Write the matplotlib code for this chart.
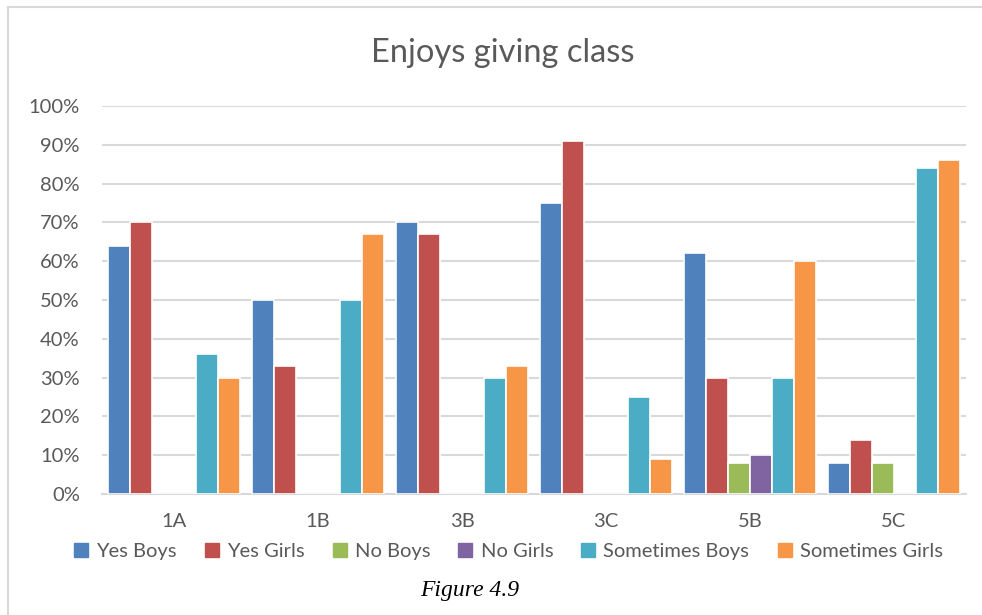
import numpy as np
import matplotlib
matplotlib.use("Agg")
import matplotlib.pyplot as plt
from matplotlib.lines import Line2D
from matplotlib.ticker import PercentFormatter

# Datos
grupos = ["1A", "1B", "3B", "3C", "5B", "5C"]
series = ["Yes Boys", "Yes Girls", "No Boys", "No Girls", "Sometimes Boys", "Sometimes Girls"]
yes_boys = [64, 50, 70, 75, 62, 8]
yes_girls = [70, 33, 67, 91, 30, 14]
no_boys = [0, 0, 0, 0, 8, 8]
no_girls = [0, 0, 0, 0, 10, 0]
sometimes_boys = [36, 50, 30, 25, 30, 84]
sometimes_girls = [30, 67, 33, 9, 60, 86]
valores = [yes_boys, yes_girls, no_boys, no_girls, sometimes_boys, sometimes_girls]
colores = ["#4F81BD", "#C0504D", "#9BBB59", "#8064A2", "#4BACC6", "#F79646"]

plt.rcParams["font.family"] = ["Lato", "DejaVu Sans"]
gris = "#595959"

fig = plt.figure(figsize=(9.82, 6.15), dpi=100)
ax = fig.add_axes([0.1039, 0.1967, 0.8798, 0.6309])

x = np.arange(len(grupos))
ancho = 0.917 / len(series)
for i, (nombre, vals, col) in enumerate(zip(series, valores, colores)):
    pos = x - 0.4585 + ancho * (i + 0.5)
    ax.bar(pos, vals, width=ancho, color=col, edgecolor="white", linewidth=1.2,
           label=nombre, zorder=3)

ax.set_xlim(-0.5, len(grupos) - 0.5)
ax.set_ylim(0, 100)
ax.set_yticks(np.arange(0, 101, 10))
ax.yaxis.set_major_formatter(PercentFormatter(decimals=0))
ax.set_xticks(x)
ax.set_xticklabels(grupos)
ax.tick_params(axis="y", length=0, pad=16, labelsize=14.5, labelcolor=gris)
ax.tick_params(axis="x", length=0, pad=14, labelsize=14.5, labelcolor=gris)
ax.grid(axis="y", color="#d9d9d9", linewidth=1.5, zorder=0)
for lado in ["top", "right", "left"]:
    ax.spines[lado].set_visible(False)
ax.spines["bottom"].set_color("#d9d9d9")
ax.spines["bottom"].set_linewidth(1.5)

fig.text(0.512, 0.914, "Enjoys giving class", ha="center", va="center",
         fontsize=23.5, color=gris)

handles = [Line2D([], [], marker="s", linestyle="none", markersize=10,
                  markerfacecolor=c, markeredgecolor=c) for c in colores]
fig.legend(handles, series, loc="center", bbox_to_anchor=(0.517, 0.104), ncol=6,
           frameon=False, fontsize=14.5, handlelength=0.8, handletextpad=0.35,
           columnspacing=1.35, labelcolor=gris)

fig.text(0.478, 0.04, "Figure 4.9", ha="center", va="center", fontsize=17,
         family="Liberation Serif", style="italic", color="black")

# Marco del grafico
fig.add_artist(Line2D([0.008, 0.008], [0.0, 0.989], color="#d9d9d9", linewidth=1.5,
                      transform=fig.transFigure))
fig.add_artist(Line2D([0.008, 1.0], [0.989, 0.989], color="#d9d9d9", linewidth=1.5,
                      transform=fig.transFigure))

fig.savefig("out.png", dpi=100)
